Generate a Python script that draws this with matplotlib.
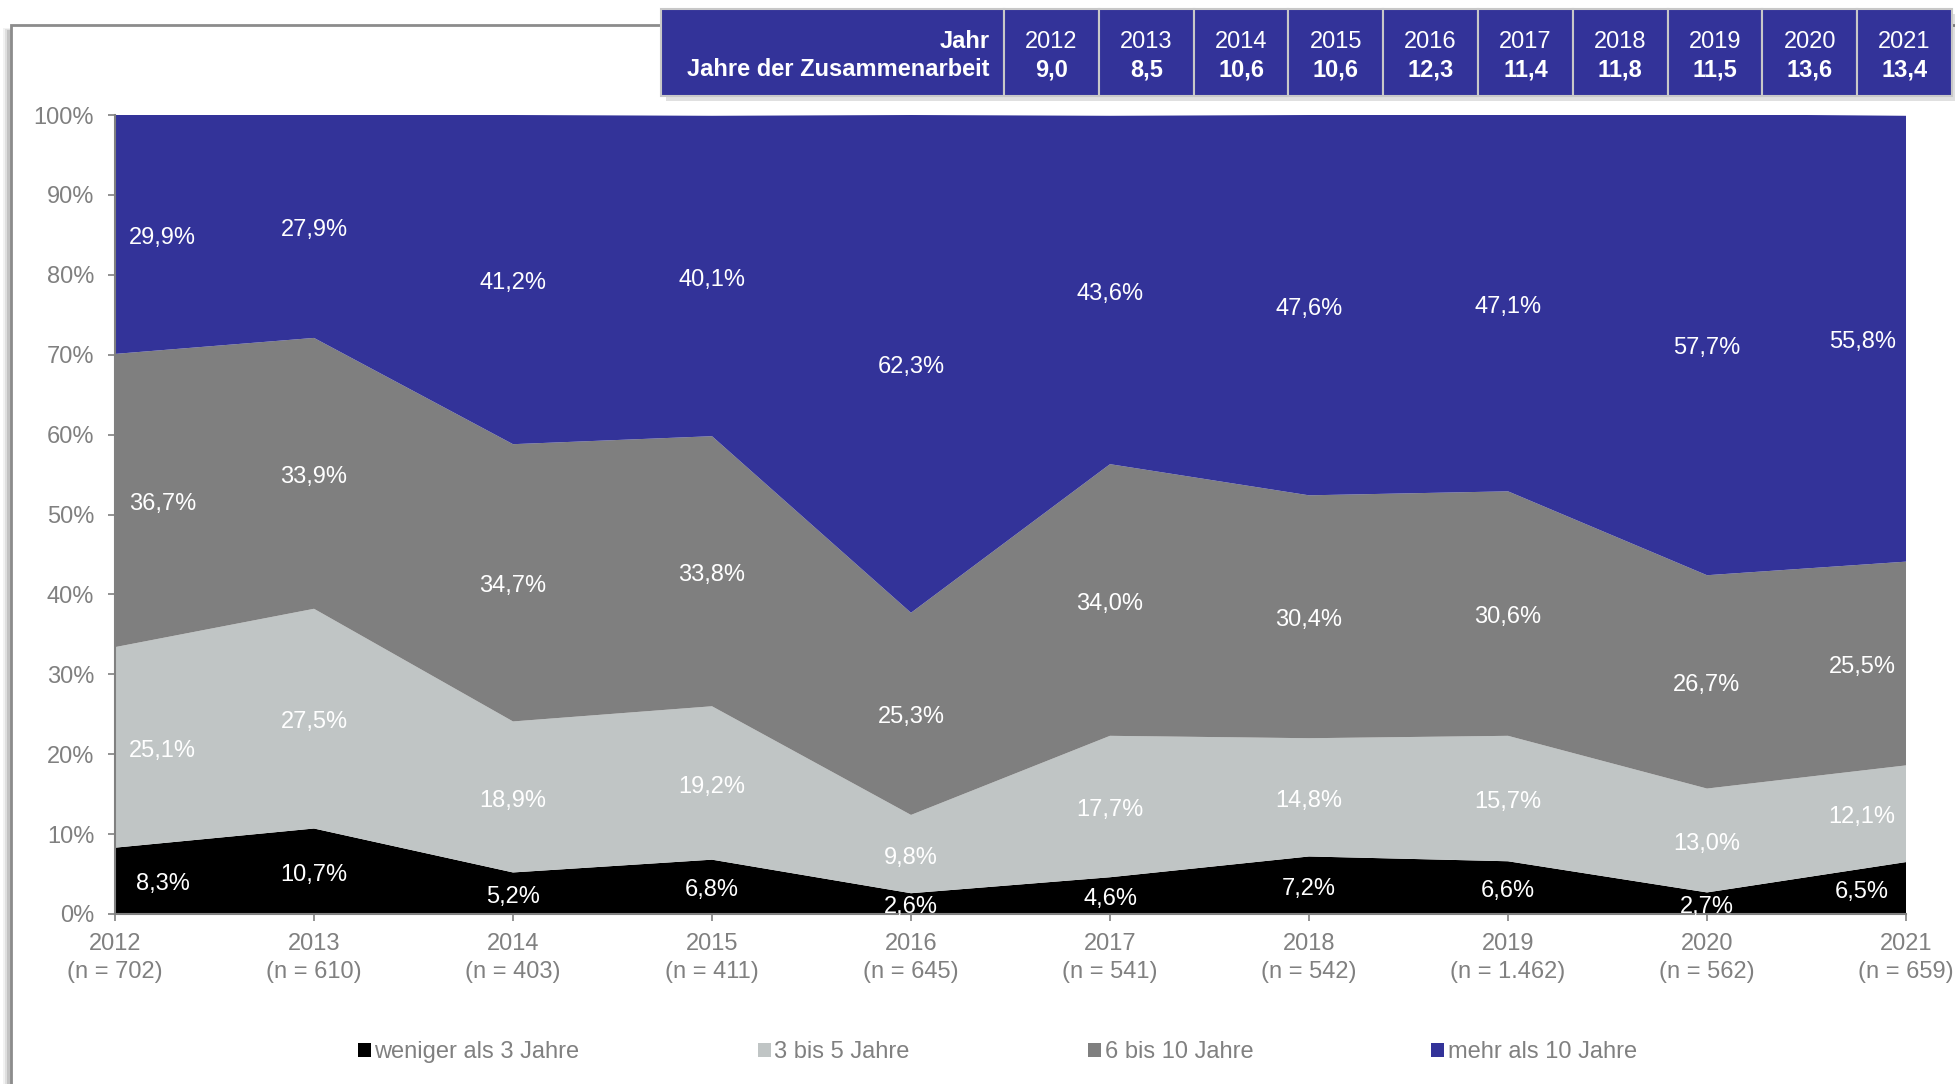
import matplotlib
matplotlib.use("Agg")
import matplotlib.pyplot as plt
from matplotlib.patches import Rectangle, Patch

plt.rcParams["font.family"] = ["Liberation Sans", "DejaVu Sans"]

# Daten
years = [2012, 2013, 2014, 2015, 2016, 2017, 2018, 2019, 2020, 2021]
n_values = ["702", "610", "403", "411", "645", "541", "542", "1.462", "562", "659"]
dauer = ["9,0", "8,5", "10,6", "10,6", "12,3", "11,4", "11,8", "11,5", "13,6", "13,4"]

series_names = ["weniger als 3 Jahre", "3 bis 5 Jahre", "6 bis 10 Jahre", "mehr als 10 Jahre"]
weniger_3 = [8.3, 10.7, 5.2, 6.8, 2.6, 4.6, 7.2, 6.6, 2.7, 6.5]
bis_5 = [25.1, 27.5, 18.9, 19.2, 9.8, 17.7, 14.8, 15.7, 13.0, 12.1]
bis_10 = [36.7, 33.9, 34.7, 33.8, 25.3, 34.0, 30.4, 30.6, 26.7, 25.5]
mehr_10 = [29.9, 27.9, 41.2, 40.1, 62.3, 43.6, 47.6, 47.1, 57.7, 55.8]

colors = ["#000000", "#c0c5c5", "#7f7f7f", "#333399"]
GRAY = "#808080"
FS = 17
W, H = 1956, 1084


def fx(x):
    return x / W


def fy(y):
    return 1 - y / H


fig = plt.figure(figsize=(W / 100, H / 100), dpi=100)

# Rahmen mit Schatten
for i, a in enumerate([0.05, 0.08, 0.12]):
    fig.patches.append(Rectangle((fx(3 + 2 * i), fy(1100)), fx(1960), fy(28 + i) - fy(1100),
                                 transform=fig.transFigure, facecolor="#000000", alpha=a,
                                 edgecolor="none", zorder=0))
fig.patches.append(Rectangle((fx(11), fy(1100)), fx(1960), fy(25) - fy(1100),
                             transform=fig.transFigure, facecolor="white",
                             edgecolor="#8c8c8c", linewidth=2, zorder=1))

ax = fig.add_axes([fx(115), fy(914), fx(1906) - fx(115), fy(115) - fy(914)])
ax.set_zorder(2)
data = [weniger_3, bis_5, bis_10, mehr_10]
ax.stackplot(years, data, colors=colors, linewidth=0)
ax.set_xlim(2012, 2021)
ax.set_ylim(0, 100)
ax.set_facecolor("none")

ax.set_yticks(range(0, 101, 10))
ax.set_yticklabels([f"{v}%" for v in range(0, 101, 10)])
ax.set_xticks(years)
ax.set_xticklabels([f"{y}\n(n = {n})" for y, n in zip(years, n_values)], linespacing=1.35)
ax.tick_params(axis="both", colors=GRAY, labelcolor=GRAY, labelsize=FS, length=5, width=1.2)
ax.tick_params(axis="y", pad=10)
ax.tick_params(axis="x", pad=9)
for s in ["top", "right"]:
    ax.spines[s].set_visible(False)
for s in ["left", "bottom"]:
    ax.spines[s].set_color(GRAY)
    ax.spines[s].set_linewidth(1.5)

# Datenbeschriftungen in der Mitte jedes Bandes
for i, yr in enumerate(years):
    base = 0
    xpos = yr
    if i == 0:
        xpos = yr + 0.24
    elif i == len(years) - 1:
        xpos = yr - 0.22
    for vals in data:
        v = vals[i]
        ax.text(xpos, base + v / 2 - 0.45, f"{v:.1f}%".replace(".", ","), color="white",
                fontsize=FS, ha="center", va="center")
        base += v

# Legende
handles = [Patch(facecolor=c, edgecolor="none") for c in colors]
leg = fig.legend(handles, series_names, loc="center", bbox_to_anchor=(0.510, fy(1052)),
                 ncol=4, frameon=False, fontsize=FS, handlelength=0.55, handleheight=0.55,
                 handletextpad=0.15, columnspacing=7.55)
for t in leg.get_texts():
    t.set_color(GRAY)

# Tabelle oben rechts
tx0, ty0, ty1 = 661, 9, 96
head_w = 343
col_w = 94.8
fig.patches.append(Rectangle((fx(tx0 + 5), fy(ty1 + 5)), fx(head_w + 10 * col_w), fy(ty0) - fy(ty1),
                             transform=fig.transFigure, facecolor="#000000", alpha=0.12,
                             edgecolor="none", zorder=3))
fig.patches.append(Rectangle((fx(tx0), fy(ty1)), fx(head_w), fy(ty0) - fy(ty1),
                             transform=fig.transFigure, facecolor="#333399",
                             edgecolor="#c8c8c8", linewidth=1.5, zorder=4))
fig.text(fx(tx0 + head_w - 14), fy(42), "Jahr", color="white", fontsize=FS,
         fontweight="bold", ha="right", va="center", zorder=5)
fig.text(fx(tx0 + head_w - 14), fy(70), "Jahre der Zusammenarbeit", color="white",
         fontsize=FS, fontweight="bold", ha="right", va="center", zorder=5)
for i, (yr, d) in enumerate(zip(years, dauer)):
    x0 = tx0 + head_w + i * col_w
    fig.patches.append(Rectangle((fx(x0), fy(ty1)), fx(col_w), fy(ty0) - fy(ty1),
                                 transform=fig.transFigure, facecolor="#333399",
                                 edgecolor="#c8c8c8", linewidth=1.5, zorder=4))
    fig.text(fx(x0 + col_w / 2), fy(42), str(yr), color="white", fontsize=FS,
             ha="center", va="center", zorder=5)
    fig.text(fx(x0 + col_w / 2), fy(70), d, color="white", fontsize=FS,
             fontweight="bold", ha="center", va="center", zorder=5)

fig.savefig("out.png", dpi=100)
